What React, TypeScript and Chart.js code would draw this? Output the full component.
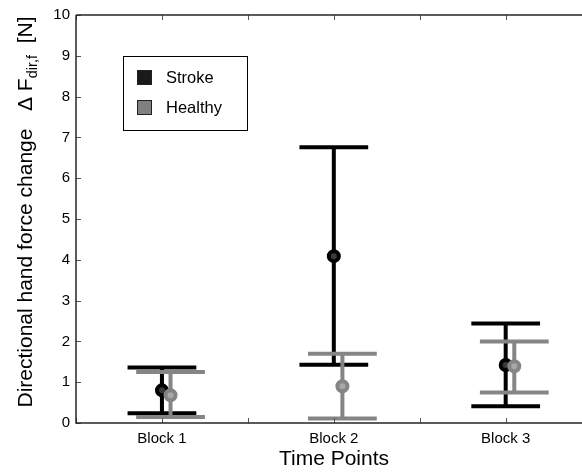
import React, { useEffect, useRef } from "react";
import { Chart, registerables } from "chart.js";

Chart.register(...registerables);

const categories = ["Block 1", "Block 2", "Block 3"];
const seriesNames = ["Stroke", "Healthy"];
const strokeMean = [0.8, 4.09, 1.42];
const strokeLow = [0.24, 1.43, 0.41];
const strokeHigh = [1.36, 6.76, 2.44];
const healthyMean = [0.68, 0.9, 1.39];
const healthyLow = [0.15, 0.11, 0.75];
const healthyHigh = [1.25, 1.7, 2.0];
const yTicks = [0, 1, 2, 3, 4, 5, 6, 7, 8, 9, 10];
const xTicks = [0.5, 1, 1.5, 2, 2.5, 3];

const BLACK = "#000000";
const GRAY = "#858585";
const AXIS = "#262626";
const FONT = "Arial, 'Liberation Sans', sans-serif";
const HEALTHY_SHIFT = 0.05;
const CAP_HALF = 0.2;
const X_MAX = 3.444;

export default function App() {
  const ref = useRef<HTMLCanvasElement | null>(null);

  useEffect(() => {
    if (!ref.current) return;
    const errs = [
      { low: strokeLow, high: strokeHigh, shift: 0, color: BLACK },
      { low: healthyLow, high: healthyHigh, shift: HEALTHY_SHIFT, color: GRAY },
    ];

    const errorBarPlugin = {
      id: "errorBars",
      beforeDatasetDraw(chart: any, args: any) {
        const e = errs[args.index];
        if (!e) return;
        const { ctx, scales } = chart;
        const xs = scales.x, ys = scales.y;
        ctx.save();
        ctx.strokeStyle = e.color;
        ctx.lineWidth = 4;
        ctx.lineCap = "butt";
        categories.forEach((_, i) => {
          const xv = i + 1 + e.shift;
          const x = xs.getPixelForValue(xv);
          const x0 = xs.getPixelForValue(xv - CAP_HALF);
          const x1 = xs.getPixelForValue(xv + CAP_HALF);
          const yl = ys.getPixelForValue(e.low[i]);
          const yh = ys.getPixelForValue(e.high[i]);
          ctx.beginPath();
          ctx.moveTo(x, yl);
          ctx.lineTo(x, yh);
          ctx.moveTo(x0, yl);
          ctx.lineTo(x1, yl);
          ctx.moveTo(x0, yh);
          ctx.lineTo(x1, yh);
          ctx.stroke();
        });
        ctx.restore();
      },
    };

    const frame = {
      id: "frame",
      afterDraw(chart: any) {
        const { ctx, chartArea: a, scales } = chart;
        ctx.save();
        // ticks
        ctx.strokeStyle = "#555";
        ctx.lineWidth = 1;
        ctx.beginPath();
        xTicks.forEach((v) => {
          const x = Math.round(scales.x.getPixelForValue(v)) + 0.5;
          ctx.moveTo(x, a.bottom);
          ctx.lineTo(x, a.bottom - 5);
          ctx.moveTo(x, a.top);
          ctx.lineTo(x, a.top + 5);
        });
        yTicks.forEach((v) => {
          const y = Math.round(scales.y.getPixelForValue(v)) + 0.5;
          ctx.moveTo(a.left, y);
          ctx.lineTo(a.left + 5, y);
        });
        ctx.stroke();
        // axis lines
        ctx.strokeStyle = AXIS;
        ctx.lineWidth = 1.5;
        ctx.beginPath();
        ctx.moveTo(a.left, a.top);
        ctx.lineTo(a.right, a.top);
        ctx.moveTo(a.left, a.top);
        ctx.lineTo(a.left, a.bottom);
        ctx.lineTo(a.right, a.bottom);
        ctx.stroke();

        // legend
        const lx = 123.5, ly = 56.5, lw = 124, lh = 74;
        ctx.fillStyle = "#fff";
        ctx.fillRect(lx, ly, lw, lh);
        ctx.strokeStyle = "#000";
        ctx.lineWidth = 1;
        ctx.strokeRect(lx, ly, lw, lh);
        const sw = [
          { fill: "#1a1a1a", y: 70 },
          { fill: "#808080", y: 100 },
        ];
        ctx.font = `16.5px ${FONT}`;
        ctx.textBaseline = "middle";
        ctx.textAlign = "left";
        seriesNames.forEach((n, i) => {
          ctx.fillStyle = sw[i].fill;
          ctx.fillRect(137, sw[i].y, 15, 15);
          ctx.strokeStyle = "#222";
          ctx.strokeRect(137.5, sw[i].y + 0.5, 14, 14);
          ctx.fillStyle = "#000";
          ctx.fillText(n, 166, sw[i].y + 8);
        });

        // x title
        ctx.fillStyle = "#000";
        ctx.font = `21px ${FONT}`;
        ctx.textAlign = "center";
        ctx.textBaseline = "alphabetic";
        ctx.fillText("Time Points", 334, 465);

        // y title with subscript
        ctx.save();
        ctx.translate(32, 212);
        ctx.rotate(-Math.PI / 2);
        const part1 = "Directional hand force change   \u0394 F";
        const sub = "dir,f";
        const part3 = "  [N]";
        ctx.font = `21px ${FONT}`;
        const w1 = ctx.measureText(part1).width;
        const w3 = ctx.measureText(part3).width;
        ctx.font = `14.5px ${FONT}`;
        const w2 = ctx.measureText(sub).width;
        let x = -(w1 + w2 + w3) / 2;
        ctx.textAlign = "left";
        ctx.font = `21px ${FONT}`;
        ctx.fillText(part1, x, 0);
        x += w1;
        ctx.font = `14.5px ${FONT}`;
        ctx.fillText(sub, x, 5);
        x += w2;
        ctx.font = `21px ${FONT}`;
        ctx.fillText(part3, x, 0);
        ctx.restore();
        ctx.restore();
      },
    };

    const chart = new Chart(ref.current, {
      type: "scatter",
      data: {
        datasets: [
          {
            label: seriesNames[0],
            data: strokeMean.map((v, i) => ({ x: i + 1, y: v })),
            pointRadius: 5,
            pointBorderWidth: 4,
            pointBorderColor: BLACK,
            pointBackgroundColor: "#3a3a3a",
            order: 1,
          },
          {
            label: seriesNames[1],
            data: healthyMean.map((v, i) => ({ x: i + 1 + HEALTHY_SHIFT, y: v })),
            pointRadius: 5,
            pointBorderWidth: 4,
            pointBorderColor: GRAY,
            pointBackgroundColor: "#a8a8a8",
            order: 0,
          },
        ],
      },
      options: {
        responsive: false,
        animation: false,
        devicePixelRatio: 1,
        layout: { autoPadding: false, padding: { top: 15, left: 0, right: 0, bottom: 0 } },
        plugins: { legend: { display: false }, tooltip: { enabled: false } },
        scales: {
          x: {
            type: "linear",
            min: 0.5,
            max: X_MAX,
            afterFit(s: any) { s.height = 49; s.paddingLeft = 0; s.paddingRight = 0; },
            afterBuildTicks(s: any) {
              s.ticks = [...xTicks.map((v) => ({ value: v })), { value: X_MAX }];
            },
            grid: { display: false, drawTicks: false },
            border: { display: false },
            ticks: {
              autoSkip: false,
              maxRotation: 0,
              minRotation: 0,
              padding: 7,
              color: "#000",
              font: { family: FONT, size: 15 },
              callback: (v: any) => (Number.isInteger(v) ? categories[v - 1] ?? "" : ""),
            },
          },
          y: {
            type: "linear",
            min: 0,
            max: 10,
            afterFit(s: any) { s.width = 76; s.paddingTop = 0; s.paddingBottom = 0; },
            afterBuildTicks(s: any) { s.ticks = yTicks.map((v) => ({ value: v })); },
            grid: { display: false, drawTicks: false },
            border: { display: false },
            ticks: {
              padding: 6,
              color: "#000",
              font: { family: FONT, size: 15 },
            },
          },
        },
      },
      plugins: [errorBarPlugin, frame],
    } as any);
    return () => chart.destroy();
  }, []);

  return (
    <div style={{ position: "fixed", left: 0, top: 0, width: 582, height: 472, background: "#fff" }}>
      <canvas ref={ref} width={582} height={472} style={{ width: 582, height: 472, display: "block" }} />
    </div>
  );
}
